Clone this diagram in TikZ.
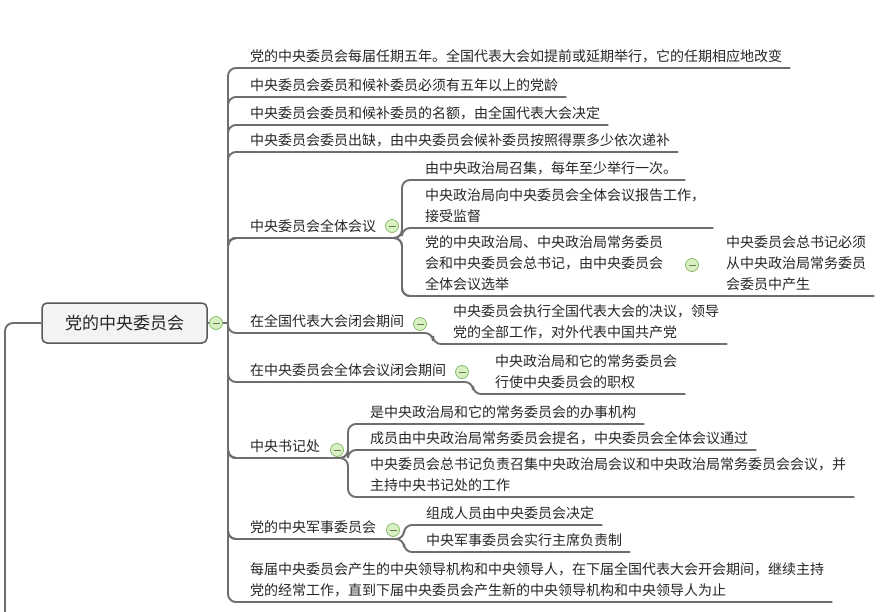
\documentclass[tikz,border=0pt]{standalone}
\usepackage{fontspec}
\setmainfont{Noto Sans CJK SC}
\usepackage{xcolor}
\usepackage{tikz}
\definecolor{linegray}{HTML}{6E6E6E}
\definecolor{textgray}{HTML}{262626}
\definecolor{rootfill}{HTML}{F3F3F3}
\definecolor{rootedge}{HTML}{595959}
\definecolor{foldfill}{HTML}{D8F0C2}
\definecolor{foldedge}{HTML}{88BA6C}
\definecolor{foldbar}{HTML}{5E7D50}
\tikzset{
	topic/.style = {anchor=south west, inner xsep=8pt, inner ysep=5pt, align=left, text=textgray, font=\fontsize{14pt}{21pt}\selectfont},
	roottopic/.style = {draw=rootedge, fill=rootfill, line width=1.5pt, rounded corners=5pt, minimum width=165pt, minimum height=40pt, text=textgray, font=\fontsize{17pt}{20pt}\selectfont},
	fold/.style = {circle, minimum size=13pt, inner sep=0pt, draw=foldedge, fill=foldfill, line width=0.8pt,
		path picture={\draw[foldbar, line width=0.8pt] ([xshift=-3.5pt]path picture bounding box.center) -- ([xshift=3.5pt]path picture bounding box.center);}},
	conn/.style = {draw=linegray, line width=1.9pt, rounded corners=8pt},
}

\begin{document}
\begin{tikzpicture}[x=1pt, y=-1pt]
	\useasboundingbox (0,0) rectangle (889,611);

	\node[roottopic] (root) at (124.5,323) {党的中央委员会};
	\coordinate (rh) at (228,323);
	\coordinate (up) at (5,620);

	\node[topic] (t1) at (242,68) {党的中央委员会每届任期五年。全国代表大会如提前或延期举行，它的任期相应地改变};
	\node[topic] (t2) at (242,97) {中央委员会委员和候补委员必须有五年以上的党龄};
	\node[topic] (t3) at (242,125) {中央委员会委员和候补委员的名额，由全国代表大会决定};
	\node[topic] (t4) at (242,152) {中央委员会委员出缺，由中央委员会候补委员按照得票多少依次递补};
	\node[topic] (t5) at (242,238) {中央委员会全体会议};
	\node[topic] (t6) at (242,333) {在全国代表大会闭会期间};
	\node[topic] (t7) at (242,382) {在中央委员会全体会议闭会期间};
	\node[topic] (t8) at (242,458) {中央书记处};
	\node[topic] (t9) at (242,539) {党的中央军事委员会};
	\node[topic] (t10) at (242,602) {每届中央委员会产生的中央领导机构和中央领导人，在下届全国代表大会开会期间，继续主持\\党的经常工作，直到下届中央委员会产生新的中央领导机构和中央领导人为止};

	% branch points
	\coordinate (b5) at (402,238);
	\coordinate (b6) at (433,333);
	\coordinate (b7) at (473,382);
	\coordinate (b8) at (348,458);
	\coordinate (b9) at (404,539);

	\node[topic] (c51) at (417,180) {由中央政治局召集，每年至少举行一次。};
	\node[topic] (c52) at (417,228) {中央政治局向中央委员会全体会议报告工作，\\接受监督};
	\node[topic] (c53) at (417,296) {党的中央政治局、中央政治局常务委员\\会和中央委员会总书记，由中央委员会\\全体会议选举};
	\node[topic] (c531) at (718,296) {中央委员会总书记必须\\从中央政治局常务委员\\会委员中产生};
	\node[topic] (c61) at (445,344) {中央委员会执行全国代表大会的决议，领导\\党的全部工作，对外代表中国共产党};
	\node[topic] (c71) at (487,394) {中央政治局和它的常务委员会\\行使中央委员会的职权};
	\node[topic] (c81) at (362,424) {是中央政治局和它的常务委员会的办事机构};
	\node[topic] (c82) at (362,450) {成员由中央政治局常务委员会提名，中央委员会全体会议通过};
	\node[topic] (c83) at (362,497) {中央委员会总书记负责召集中央政治局会议和中央政治局常务委员会会议，并\\主持中央书记处的工作};
	\node[topic] (c91) at (418,525) {组成人员由中央委员会决定};
	\node[topic] (c92) at (418,552) {中央军事委员会实行主席负责制};

	% connectors
	\draw[conn] (root.west) -| (up);
	\draw[conn] (root.east) -- (rh);
	\foreach \t in {t1,t2,t3,t4,t10}
		\draw[conn] (rh) |- (\t.south east);
	\foreach \c in {c51,c52,c53,c531}
		\draw[conn] (rh) |- (b5) |- (\c.south east);
	\draw[conn] (rh) |- (b6) |- (c61.south east);
	\draw[conn] (rh) |- (b7) |- (c71.south east);
	\foreach \c in {c81,c82,c83}
		\draw[conn] (rh) |- (b8) |- (\c.south east);
	\foreach \c in {c91,c92}
		\draw[conn] (rh) |- (b9) |- (\c.south east);

	% fold markers
	\node[fold] (rootm) at (216,323) {};
	\node[fold] (f5) at (392,226) {};
	\node[fold] (f53) at (692,265) {};
	\node[fold] (f6) at (420,324) {};
	\node[fold] (f7) at (462,372) {};
	\node[fold] (f8) at (337,450) {};
	\node[fold] (f9) at (393,530) {};
\end{tikzpicture}
\end{document}
